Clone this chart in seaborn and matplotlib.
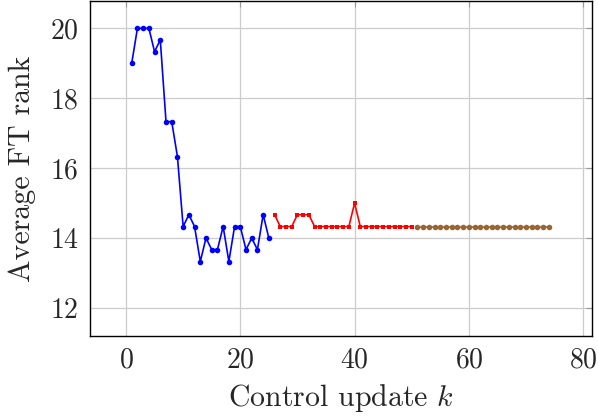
import matplotlib
matplotlib.use("Agg")
import matplotlib.pyplot as plt
import seaborn as sns
import pandas as pd

# Data
k_blue = list(range(1, 26))
rank_blue = [19, 20, 20, 20, 19.33, 19.67, 17.33, 17.33, 16.33, 14.33,
             14.67, 14.33, 13.33, 14, 13.67, 13.67, 14.33, 13.33, 14.33, 14.33,
             13.67, 14, 13.67, 14.67, 14]
k_red = list(range(26, 51))
rank_red = [14.67, 14.33, 14.33, 14.33, 14.67, 14.67, 14.67, 14.33, 14.33, 14.33,
            14.33, 14.33, 14.33, 14.33, 15, 14.33, 14.33, 14.33, 14.33, 14.33,
            14.33, 14.33, 14.33, 14.33, 14.33]
k_brown = list(range(51, 75))
rank_brown = [14.33] * len(k_brown)

sns.set_style("white")
plt.rcParams["font.family"] = ["serif"]
plt.rcParams["font.serif"] = ["cmr10", "DejaVu Serif"]
plt.rcParams["mathtext.fontset"] = "cm"
plt.rcParams["axes.unicode_minus"] = False
plt.rcParams["axes.formatter.use_mathtext"] = True

fig = plt.figure(figsize=(5.98, 4.16), dpi=100)
ax = fig.add_axes([0.1505, 0.1923, 0.839, 0.8053])

df_b = pd.DataFrame({"k": k_blue, "rank": rank_blue})
df_r = pd.DataFrame({"k": k_red, "rank": rank_red})
df_n = pd.DataFrame({"k": k_brown, "rank": rank_brown})

sns.lineplot(data=df_b, x="k", y="rank", ax=ax, color="blue", marker="o",
             markersize=4, markeredgewidth=0, linewidth=1.2)
sns.lineplot(data=df_r, x="k", y="rank", ax=ax, color="red", marker="s",
             markersize=3.3, markeredgewidth=0, linewidth=1.2)
sns.lineplot(data=df_n, x="k", y="rank", ax=ax, color=(0.6, 0.4, 0.2), marker="o",
             markersize=4, markeredgewidth=0, linewidth=1.2)

ax.set_xlim(-6.3, 81.5)
ax.set_ylim(11.2, 20.78)
ax.set_xticks([0, 20, 40, 60, 80])
ax.set_yticks([12, 14, 16, 18, 20])
ax.grid(True, color="#cccccc", linewidth=0.9)
ax.set_axisbelow(True)
ax.tick_params(direction="in", top=True, right=True, length=4, color="#999999",
               labelsize=20, pad=8)
for s in ax.spines.values():
    s.set_color("black")
    s.set_linewidth(1.0)

ax.set_xlabel("Control update $k$", fontsize=21.5, labelpad=6)
ax.set_ylabel("Average FT rank", fontsize=21.5, labelpad=10)

fig.savefig("out.png", dpi=100)
